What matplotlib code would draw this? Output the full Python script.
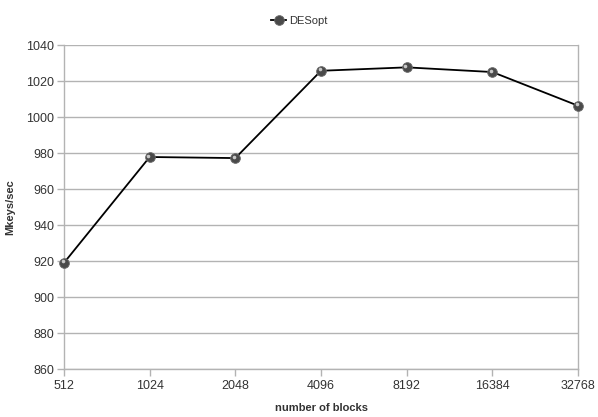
import matplotlib
matplotlib.use("Agg")
import matplotlib.pyplot as plt
from matplotlib.transforms import ScaledTranslation

plt.rcParams["font.family"] = ["Liberation Sans", "DejaVu Sans"]

blocks = ["512", "1024", "2048", "4096", "8192", "16384", "32768"]
mkeys = [919.0, 977.8, 977.2, 1025.7, 1027.6, 1025.0, 1006.3]
y_ticks = [860, 880, 900, 920, 940, 960, 980, 1000, 1020, 1040]

grid_col = "#b3b3b3"
text_col = "#333333"

fig = plt.figure(figsize=(5.98, 4.17), dpi=100)
ax = fig.add_axes([0.107, 0.115, 0.8596, 0.777])

x = list(range(len(blocks)))
line, = ax.plot(x, mkeys, color="black", linewidth=1.3, zorder=3,
                marker="o", markersize=7, markerfacecolor="#4a4a4a",
                markeredgecolor="#6a6a6a", markeredgewidth=0.6,
                clip_on=False)
# small highlight, shifted up-left, to mimic the shaded ball markers
shift = ax.transData + ScaledTranslation(-1.0 / 72, 1.0 / 72, fig.dpi_scale_trans)
ax.plot(x, mkeys, linestyle="none", marker="o", markersize=2.6,
        markerfacecolor="#c8c8c8", markeredgecolor="none", zorder=4,
        transform=shift, clip_on=False)

ax.set_xlim(0, len(blocks) - 1)
ax.set_ylim(860, 1040)
ax.set_xticks(x)
ax.set_xticklabels(blocks)
ax.set_yticks(y_ticks)
ax.yaxis.grid(True, color=grid_col, linewidth=1)
ax.set_axisbelow(True)

for side in ["left", "bottom", "right"]:
    ax.spines[side].set_color(grid_col)
    ax.spines[side].set_linewidth(1)
ax.spines["top"].set_visible(False)

ax.tick_params(axis="both", colors=grid_col, labelcolor=text_col,
               labelsize=9, length=5, width=1, direction="out")
ax.tick_params(axis="x", pad=3)
ax.tick_params(axis="y", pad=2)

ax.set_xlabel("number of blocks", fontsize=8, fontweight="bold",
              color=text_col, labelpad=8)
ax.set_ylabel("Mkeys/sec", fontsize=8, fontweight="bold",
              color=text_col, labelpad=8)

fig.legend([line], ["DESopt"], loc="upper center",
           bbox_to_anchor=(0.5, 0.985), frameon=False, fontsize=8,
           handlelength=1.4, handletextpad=0.2, labelcolor=text_col)

fig.savefig("out.png", dpi=100)
